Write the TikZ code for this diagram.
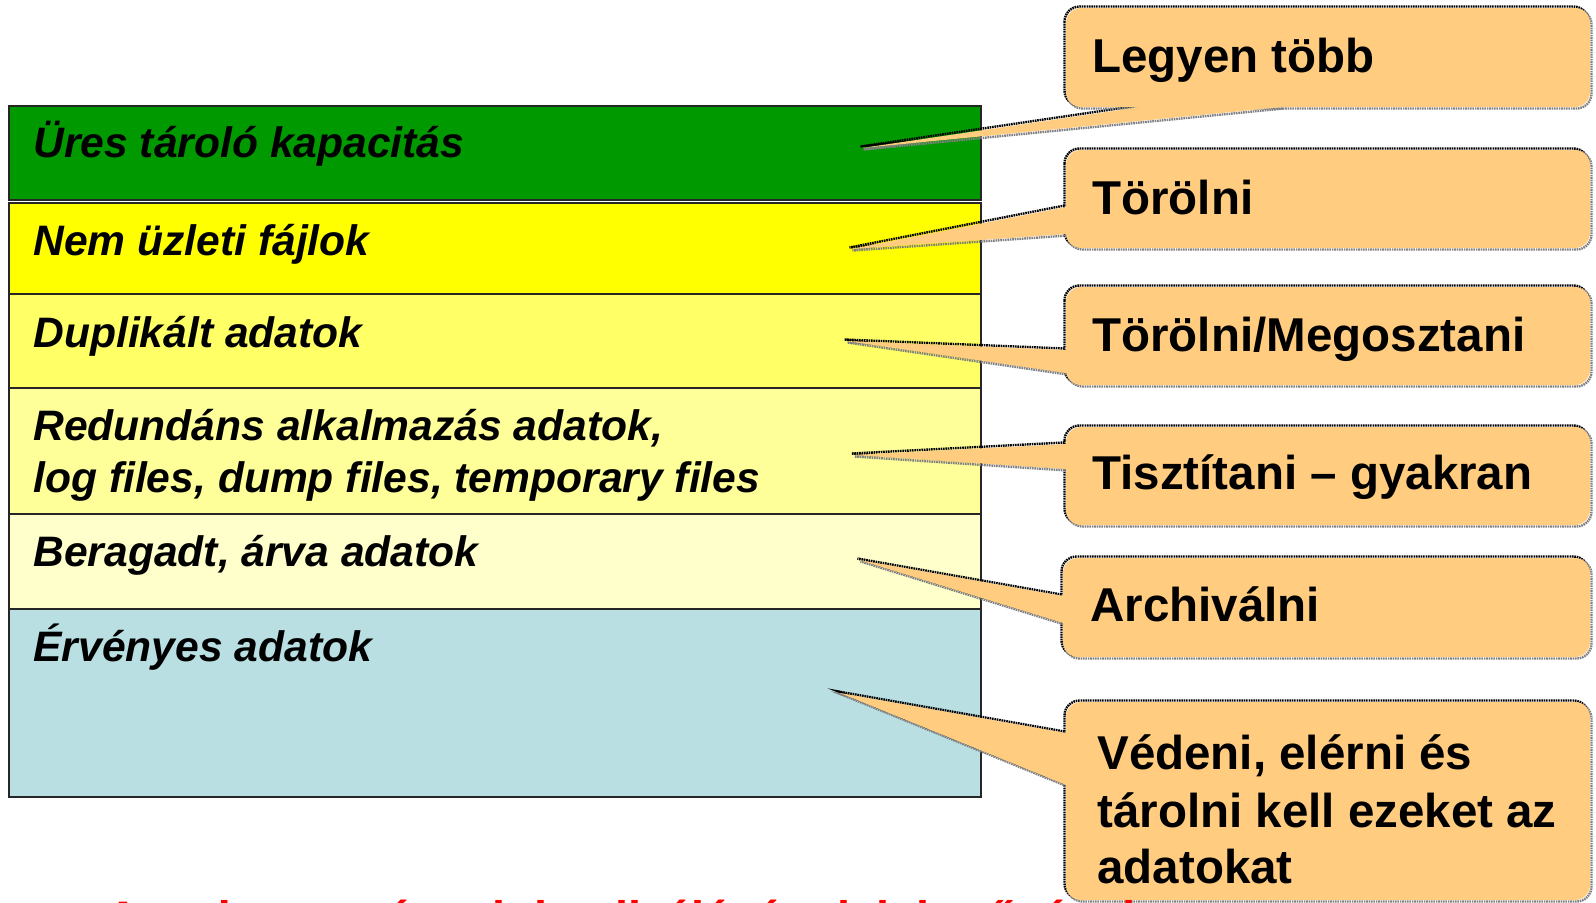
\documentclass[tikz,border=0pt]{standalone}
\usepackage{fontspec}
\setmainfont{Liberation Sans}
\definecolor{rowA}{HTML}{009900}
\definecolor{rowB}{HTML}{FFFF00}
\definecolor{rowC}{HTML}{FFFF66}
\definecolor{rowD}{HTML}{FFFF99}
\definecolor{rowE}{HTML}{FFFFCC}
\definecolor{rowF}{HTML}{B9DFE3}
\definecolor{notecol}{HTML}{FFCC80}
\definecolor{notered}{HTML}{FF0000}
\begin{document}
\begin{tikzpicture}[x=0.5pt,y=-0.5pt,
  rowbox/.style={draw=black!85, line width=1pt},
  rowtext/.style={anchor=base west, inner sep=0pt,
    font=\fontsize{21.3}{25}\selectfont\bfseries\itshape},
  notetext/.style={anchor=base west, inner sep=0pt,
    font=\fontsize{23.75}{29}\selectfont\bfseries},
  edgedark/.style={draw=black, line width=1.2pt, dash pattern=on 0.8pt off 0.4pt},
  edgelight/.style={draw=black!50, line width=1.2pt, dash pattern=on 0.8pt off 0.4pt}]
\useasboundingbox (0,0) rectangle (1596,902);

% storage layers
\path[rowbox, fill=rowA] (9,106) rectangle (981,200);
\path[rowbox, fill=rowB] (9,203) rectangle (981,294);
\path[rowbox, fill=rowC] (9,294) rectangle (981,388);
\path[rowbox, fill=rowD] (9,388) rectangle (981,514);
\path[rowbox, fill=rowE] (9,514) rectangle (981,609);
\path[rowbox, fill=rowF] (9,609) rectangle (981,797);

\node[rowtext] (l1) at (33,157) {Üres tároló kapacitás};
\node[rowtext] (l2) at (33,255) {Nem üzleti fájlok};
\node[rowtext] (l3) at (33,347) {Duplikált adatok};
\node[rowtext] (l4a) at (33,440) {Redundáns alkalmazás adatok,};
\node[rowtext] (l4b) at (33,492) {log files, dump files, temporary files};
\node[rowtext] (l5) at (33,566) {Beragadt, árva adatok};
\node[rowtext] (l6) at (33,661) {Érvényes adatok};

% callout bubbles: box corners, pointer base points, pointer tip
\foreach \xa/\ya/\xb/\yb/\ax/\ay/\bx/\by/\tx/\ty in {
  1066/8/1590/107/1140/107/1282/107/862/148,
  1066/150/1590/248/1066/207/1066/234/851/249,
  1066/287/1590/385/1066/350/1066/373/846/341,
  1066/427/1590/525/1066/444/1066/469/853/455,
  1063/558/1590/657/1063/596/1063/623/859/560,
  1066/702/1590/900/1066/733/1066/785/840/693}
{
  \begin{scope}[shift={(-1.5,-1.5)}]
    \draw[edgedark, rounded corners=7.5pt] (\xa,\ya) rectangle (\xb,\yb);
    \draw[edgedark] (\ax,\ay) -- (\tx,\ty) -- (\bx,\by);
  \end{scope}
  \begin{scope}[shift={(1.5,1.5)}]
    \draw[edgelight, rounded corners=7.5pt] (\xa,\ya) rectangle (\xb,\yb);
    \draw[edgelight] (\ax,\ay) -- (\tx,\ty) -- (\bx,\by);
  \end{scope}
  \fill[notecol, rounded corners=7.5pt] (\xa,\ya) rectangle (\xb,\yb);
  \fill[notecol] (\ax,\ay) -- (\tx,\ty) -- (\bx,\by) -- cycle;
}

\node[notetext] (n1) at (1092,72) {Legyen több};
\node[notetext] (n2) at (1092,214) {Törölni};
\node[notetext] (n3) at (1092,351) {Törölni/Megosztani};
\node[notetext] (n4) at (1092,489) {Tisztítani – gyakran};
\node[notetext] (n5) at (1090,621) {Archiválni};
\node[notetext] (n6a) at (1097,769) {Védeni, elérni és};
\node[notetext] (n6b) at (1097,827) {tárolni kell ezeket az};
\node[notetext] (n6c) at (1097,883) {adatokat};

% caption line running off the lower edge
\node[anchor=base west, inner sep=0pt, text=notered,
  font=\fontsize{23.5}{28}\selectfont\bfseries] (cap) at (106,934)
  {Az adatmentés minimalizálásának lehetőségei};
\end{tikzpicture}
\end{document}
